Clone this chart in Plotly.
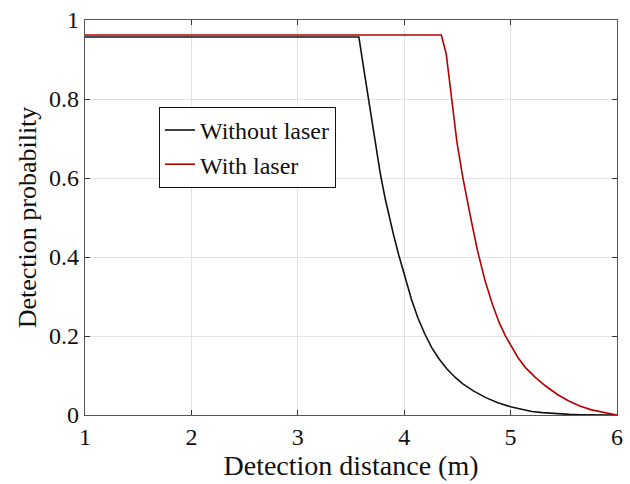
import plotly.graph_objects as go

# Detection probability vs distance
dist_without = [1.0, 2.0, 3.0, 3.5, 3.574, 3.62, 3.67, 3.72, 3.775, 3.821, 3.862, 3.900, 3.95,
                4.00, 4.07, 4.13, 4.194, 4.26, 4.33, 4.40, 4.48, 4.551, 4.65, 4.767, 4.88,
                5.009, 5.1, 5.2, 5.3, 5.388, 5.47, 5.55, 5.65, 5.75, 6.0]
prob_without = [0.957, 0.957, 0.957, 0.957, 0.957, 0.876, 0.787, 0.700, 0.612, 0.548, 0.497,
                0.456, 0.404, 0.354, 0.291, 0.245, 0.205, 0.170, 0.141, 0.117, 0.095, 0.079,
                0.061, 0.044, 0.031, 0.020, 0.014, 0.009, 0.006, 0.004, 0.0025, 0.0015,
                0.0007, 0.0003, 0.0]

dist_with = [1.0, 2.0, 3.0, 4.0, 4.349, 4.395, 4.442, 4.495, 4.551, 4.59, 4.628, 4.690,
             4.761, 4.83, 4.891, 4.95, 5.009, 5.07, 5.14, 5.23, 5.326, 5.44, 5.542, 5.65,
             5.76, 5.88, 6.0]
prob_with = [0.962, 0.962, 0.962, 0.962, 0.962, 0.914, 0.802, 0.692, 0.601, 0.545, 0.495,
             0.415, 0.339, 0.280, 0.235, 0.201, 0.172, 0.145, 0.120, 0.096, 0.074, 0.052,
             0.036, 0.023, 0.013, 0.006, 0.0]

x_ticks = [1, 2, 3, 4, 5, 6]
y_ticks = [0, 0.2, 0.4, 0.6, 0.8, 1]
y_tick_text = ["0", "0.2", "0.4", "0.6", "0.8", "1"]

FONT = "Liberation Serif, Times New Roman, serif"

fig = go.Figure()
fig.add_trace(go.Scatter(x=dist_without, y=prob_without, mode="lines",
                         name="Without laser",
                         line=dict(color="#111111", width=1.6)))
fig.add_trace(go.Scatter(x=dist_with, y=prob_with, mode="lines",
                         name="With laser",
                         line=dict(color="#b50000", width=1.6)))

axis_common = dict(
    showline=True, linecolor="#555555", linewidth=1.2, mirror="ticks",
    ticks="inside", ticklen=5, tickcolor="#333333", tickwidth=1,
    showgrid=True, gridcolor="#e2e2e2", gridwidth=1, zeroline=False,
    tickfont=dict(family=FONT, size=24, color="#111111"),
)

fig.update_layout(
    width=630, height=484,
    margin=dict(l=85, r=7, t=16, b=69),
    paper_bgcolor="white", plot_bgcolor="white",
    font=dict(family=FONT, color="#111111"),
    xaxis=dict(range=[1, 6], tickvals=x_ticks,
               title=dict(text="Detection distance (m)",
                          font=dict(family=FONT, size=28, color="#111111"),
                          standoff=4),
               **axis_common),
    yaxis=dict(range=[0, 1], tickvals=y_ticks, ticktext=y_tick_text,
               title=dict(text="Detection probability",
                          font=dict(family=FONT, size=26, color="#111111"),
                          standoff=4),
               **axis_common),
    legend=dict(x=0.139, y=0.78, xanchor="left", yanchor="top",
                bgcolor="white", bordercolor="#111111", borderwidth=1,
                font=dict(family=FONT, size=24, color="#111111"),
                itemwidth=30, tracegroupgap=0),
    showlegend=True,
)

fig.write_html("out.html")
